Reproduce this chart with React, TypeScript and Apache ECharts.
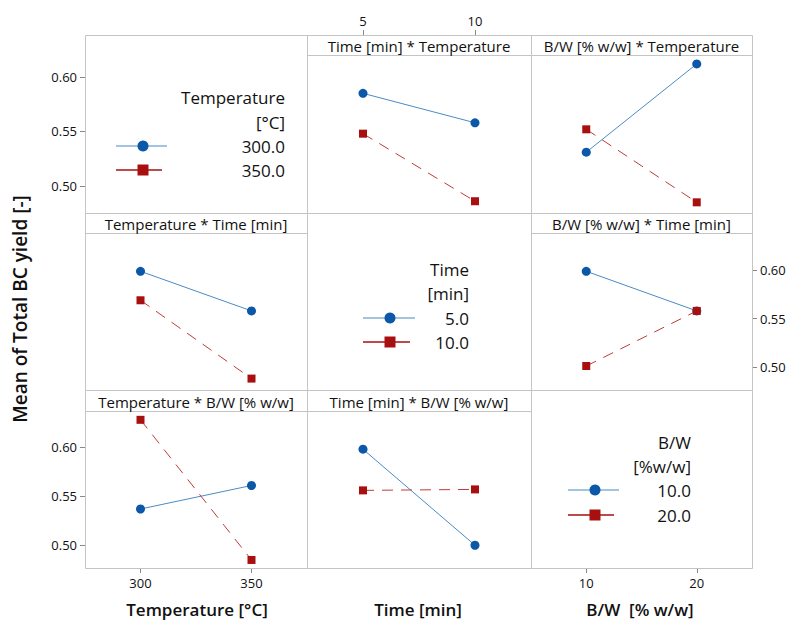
import React, { useEffect, useRef } from "react";
import * as echarts from "echarts";

// ---- Data ----
const temperatureLevels = [300, 350];
const timeLevels = [5, 10];
const bwLevels = [10, 20];
const yTickValues = [0.5, 0.55, 0.6];

// Row 1: series = Temperature (300 blue, 350 red)
const timeByTemp300 = [0.585, 0.558];
const timeByTemp350 = [0.548, 0.486];
const bwByTemp300 = [0.531, 0.612];
const bwByTemp350 = [0.552, 0.485];
// Row 2: series = Time (5 blue, 10 red)
const tempByTime5 = [0.599, 0.558];
const tempByTime10 = [0.569, 0.488];
const bwByTime5 = [0.599, 0.558];
const bwByTime10 = [0.501, 0.558];
// Row 3: series = B/W (10 blue, 20 red)
const tempByBw10 = [0.537, 0.561];
const tempByBw20 = [0.628, 0.485];
const timeByBw10 = [0.598, 0.5];
const timeByBw20 = [0.556, 0.557];

const stripTitles = [
  [null, "Time [min] * Temperature", "B/W [% w/w] * Temperature"],
  ["Temperature * Time [min]", null, "B/W [% w/w] * Time [min]"],
  ["Temperature * B/W [% w/w]", "Time [min] * B/W [% w/w]", null],
];
const axisTitles = ["Temperature [°C]", "Time [min]", "B/W  [% w/w]"];
const yTitle = "Mean of Total BC yield [-]";
const legendTitles = [
  ["Temperature", "[°C]"],
  ["Time", "[min]"],
  ["B/W", "[%w/w]"],
];
const legendLabels = [
  ["300.0", "350.0"],
  ["5.0", "10.0"],
  ["10.0", "20.0"],
];

// ---- Layout / style ----
const FONT = "'Open Sans', 'Noto Sans', sans-serif";
const colX = [85, 307, 531, 752];
const rowY = [35, 213, 390, 568];
const stripH = [20, 20, 21];
const xRanges = [
  [275, 375],
  [2.5, 12.5],
  [5, 25],
];
const yRanges = [
  [0.4752, 0.6202],
  [0.4762, 0.6386],
  [0.4768, 0.637],
];
const BLUE_M = "#0b57a8";
const BLUE_L = "#4a8bc6";
const RED_M = "#a80f0f";
const RED_L = "#c23a3a";
const FRAME = "#c4c4c4";
const TEXT = "#111111";

export default function App() {
  const ref = useRef<HTMLDivElement>(null);
  useEffect(() => {
    document.body.style.margin = "0";
    if (!ref.current) return;
    const chart = echarts.init(ref.current, undefined, { renderer: "svg" });

    const xLevelsByCol = [temperatureLevels, timeLevels, bwLevels];
    const grids: any[] = [];
    const xAxes: any[] = [];
    const yAxes: any[] = [];
    for (let r = 0; r < 3; r++) {
      for (let c = 0; c < 3; c++) {
        const top = rowY[r] + stripH[r];
        grids.push({
          left: colX[c],
          top,
          width: colX[c + 1] - colX[c],
          height: rowY[r + 1] - top,
          containLabel: false,
        });
        const showTopX = r === 0 && c === 1;
        const showBottomX = r === 2 && (c === 0 || c === 2);
        const showX = showTopX || showBottomX;
        xAxes.push({
          type: "value",
          gridIndex: r * 3 + c,
          min: xRanges[c][0],
          max: xRanges[c][1],
          position: showTopX ? "top" : "bottom",
          offset: showTopX ? stripH[0] : 0,
          axisLine: { show: false },
          splitLine: { show: false },
          axisTick: {
            show: showX,
            customValues: xLevelsByCol[c],
            length: 5,
            lineStyle: { color: "#888" },
          },
          axisLabel: {
            show: showX,
            customValues: xLevelsByCol[c],
            fontFamily: FONT,
            fontSize: 13,
            color: TEXT,
            margin: 8,
          },
        });
        const showLeftY = c === 0 && (r === 0 || r === 2);
        const showRightY = c === 2 && r === 1;
        const showY = showLeftY || showRightY;
        yAxes.push({
          type: "value",
          gridIndex: r * 3 + c,
          min: yRanges[r][0],
          max: yRanges[r][1],
          position: showRightY ? "right" : "left",
          axisLine: { show: false },
          splitLine: { show: false },
          axisTick: {
            show: showY,
            customValues: yTickValues,
            length: 5,
            lineStyle: { color: "#888" },
          },
          axisLabel: {
            show: showY,
            customValues: yTickValues,
            formatter: (v: number) => v.toFixed(2),
            fontFamily: FONT,
            fontSize: 13,
            color: TEXT,
            margin: 8,
          },
        });
      }
    }

    const mk = (
      name: string,
      gi: number,
      xs: number[],
      ys: number[],
      blue: boolean
    ) => ({
      name,
      type: "line",
      xAxisIndex: gi,
      yAxisIndex: gi,
      data: xs.map((x, i) => [x, ys[i]]),
      symbol: blue ? "circle" : "rect",
      symbolSize: blue ? 9 : 8,
      itemStyle: { color: blue ? BLUE_M : RED_M },
      lineStyle: blue
        ? { color: BLUE_L, width: 1 }
        : { color: RED_L, width: 1, type: [11, 8] },
      z: blue ? 2 : 3,
    });

    const series = [
      mk("Temp 300", 1, timeLevels, timeByTemp300, true),
      mk("Temp 350", 1, timeLevels, timeByTemp350, false),
      mk("Temp 300", 2, bwLevels, bwByTemp300, true),
      mk("Temp 350", 2, bwLevels, bwByTemp350, false),
      mk("Time 5", 3, temperatureLevels, tempByTime5, true),
      mk("Time 10", 3, temperatureLevels, tempByTime10, false),
      mk("Time 5", 5, bwLevels, bwByTime5, true),
      mk("Time 10", 5, bwLevels, bwByTime10, false),
      mk("BW 10", 6, temperatureLevels, tempByBw10, true),
      mk("BW 20", 6, temperatureLevels, tempByBw20, false),
      mk("BW 10", 7, timeLevels, timeByBw10, true),
      mk("BW 20", 7, timeLevels, timeByBw20, false),
    ];

    const graphic: any[] = [];
    // frames and strips
    for (let r = 0; r < 3; r++) {
      for (let c = 0; c < 3; c++) {
        graphic.push({
          type: "rect",
          shape: {
            x: colX[c] + 0.5,
            y: rowY[r] + 0.5,
            width: colX[c + 1] - colX[c],
            height: rowY[r + 1] - rowY[r],
          },
          style: { fill: "none", stroke: FRAME, lineWidth: 1 },
          z: 1,
        });
        const t = stripTitles[r][c];
        if (t) {
          const yb = rowY[r] + stripH[r] + 0.5;
          graphic.push({
            type: "line",
            shape: { x1: colX[c], y1: yb, x2: colX[c + 1], y2: yb },
            style: { stroke: FRAME, lineWidth: 1 },
            z: 1,
          });
          graphic.push({
            type: "text",
            x: (colX[c] + colX[c + 1]) / 2,
            y: rowY[r] + stripH[r] / 2 + 1,
            style: {
              text: t,
              align: "center",
              verticalAlign: "middle",
              fontFamily: FONT,
              fontSize: 15,
              fill: TEXT,
            },
            z: 5,
          });
        }
      }
    }
    // legends
    const legendPos = [
      { right: 285, ys: [97, 122, 146, 170], lx1: 116, lx2: [167, 162], sx: 143 },
      { right: 469, ys: [269, 293, 318, 342], lx1: 363, lx2: [415, 410], sx: 390 },
      { right: 691, ys: [442, 466, 490, 515], lx1: 568, lx2: [619, 614], sx: 595 },
    ];
    legendPos.forEach((p, k) => {
      const texts = [...legendTitles[k], ...legendLabels[k]];
      texts.forEach((t, i) => {
        graphic.push({
          type: "text",
          x: p.right,
          y: p.ys[i],
          style: {
            text: t,
            align: "right",
            verticalAlign: "middle",
            fontFamily: FONT,
            fontSize: 17,
            fill: TEXT,
          },
          z: 5,
        });
      });
      graphic.push({
        type: "line",
        shape: { x1: p.lx1, y1: p.ys[2], x2: p.lx2[0], y2: p.ys[2] },
        style: { stroke: BLUE_L, lineWidth: 1.2 },
        z: 5,
      });
      graphic.push({
        type: "circle",
        shape: { cx: p.sx, cy: p.ys[2], r: 5.5 },
        style: { fill: BLUE_M },
        z: 6,
      });
      graphic.push({
        type: "line",
        shape: { x1: p.lx1, y1: p.ys[3], x2: p.lx2[1], y2: p.ys[3] },
        style: { stroke: RED_M, lineWidth: 1.6 },
        z: 5,
      });
      graphic.push({
        type: "rect",
        shape: { x: p.sx - 5.5, y: p.ys[3] - 5.5, width: 11, height: 11 },
        style: { fill: RED_M },
        z: 6,
      });
    });
    // axis titles
    const titleX = [197, 418, 640];
    axisTitles.forEach((t, c) => {
      graphic.push({
        type: "text",
        x: titleX[c],
        y: 609,
        style: {
          text: t,
          align: "center",
          verticalAlign: "middle",
          fontFamily: FONT,
          fontSize: 17,
          fontWeight: 600,
          fill: TEXT,
        },
      });
    });
    graphic.push({
      type: "text",
      x: 20,
      y: 309,
      rotation: Math.PI / 2,
      style: {
        text: yTitle,
        align: "center",
        verticalAlign: "middle",
        fontFamily: FONT,
        fontSize: 19,
        fontWeight: 600,
        fill: TEXT,
      },
    });

    chart.setOption({
      animation: false,
      backgroundColor: "#ffffff",
      grid: grids,
      xAxis: xAxes,
      yAxis: yAxes,
      series,
      graphic,
    });
    return () => chart.dispose();
  }, []);
  return <div ref={ref} style={{ width: 795, height: 620 }} />;
}
